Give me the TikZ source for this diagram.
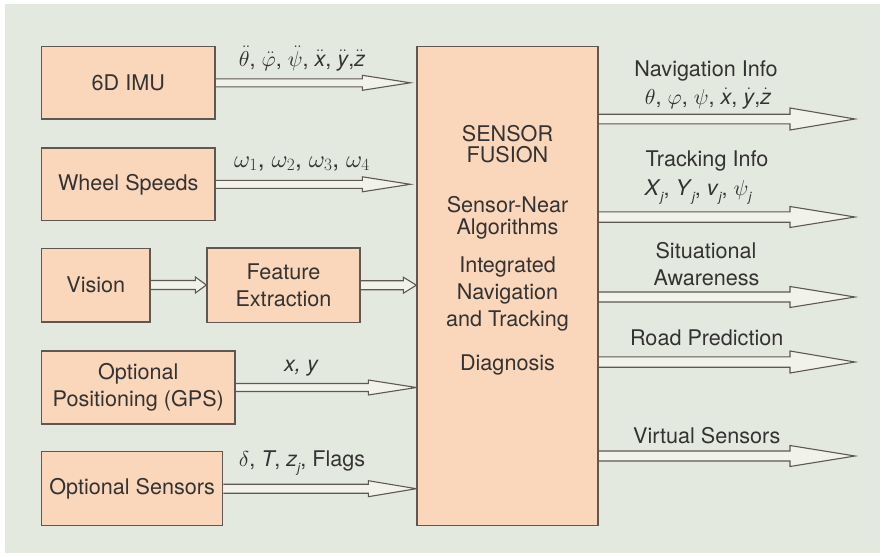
\documentclass[tikz,border=0pt]{standalone}
\DeclareFontFamily{OML}{cmm}{\skewchar\font127}
\DeclareFontShape{OML}{cmm}{m}{it}{<->cmmi10}{}
\DeclareFontShape{OML}{cmm}{b}{it}{<->cmmib10}{}
\DeclareFontFamily{OMS}{cmsy}{\skewchar\font48}
\DeclareFontShape{OMS}{cmsy}{m}{n}{<->cmsy10}{}
\DeclareFontFamily{OMX}{cmex}{}
\DeclareFontShape{OMX}{cmex}{m}{n}{<->cmex10}{}
\usepackage{amsmath}
\usepackage{fontspec}
\setmainfont{TeX Gyre Heros}
\usetikzlibrary{calc}
\definecolor{bgc}{RGB}{228,233,223}
\definecolor{boxc}{RGB}{250,215,186}
\definecolor{edgec}{RGB}{95,88,82}
\definecolor{arrc}{RGB}{241,242,233}
\definecolor{txtc}{RGB}{52,50,50}
\newcommand\sit[1]{\text{\itshape #1}}
\newcommand\sbj{\raisebox{-0.28em}{\fontsize{13}{13}\selectfont\itshape j}}
\pgfdeclarelayer{bgl}
\pgfdeclarelayer{arrl}
\pgfsetlayers{bgl,arrl,main}
\tikzset{
  blk/.style={draw=edgec, fill=boxc, line width=1.3pt, align=center, inner sep=0pt, text=txtc},
  lbl/.style={text=txtc, inner sep=0pt, anchor=base},
  harr/.style={draw=edgec, line width=1.1pt, line join=miter},
}
% #1 start, #2 tip, #3 shaft half width, #4 head half width, #5 head length
\newcommand\harrow[5]{%
  \fill[arrc] let \p1=(#1), \p2=(#2) in
    (\x1,\y1+#3) -- (\x2-#5,\y1+#3) -- (\x2-#5,\y1+#4) -- (\x2,\y1)
    -- (\x2-#5,\y1-#4) -- (\x2-#5,\y1-#3) -- (\x1,\y1-#3) -- cycle;
  \draw[harr] let \p1=(#1), \p2=(#2) in
    (\x1,\y1+#3) -- (\x2-#5,\y1+#3) -- (\x2-#5,\y1+#4) -- (\x2,\y1)
    -- (\x2-#5,\y1-#4) -- (\x2-#5,\y1-#3) -- (\x1,\y1-#3);
}
\begin{document}
\begin{tikzpicture}[x=1pt,y=-1pt,font=\fontsize{21.6}{26.5}\selectfont]
\useasboundingbox (0,0) rectangle (884,557);
\begin{pgfonlayer}{bgl}
  \fill[bgc] (5,4) rectangle (880,553);
\end{pgfonlayer}

% input boxes
\node[blk, minimum width=173.3pt, minimum height=72.3pt] (imu) at (128.3,82.8) {6D IMU};
\node[blk, minimum width=173.3pt, minimum height=72.7pt] (wheel) at (128.3,184.3) {Wheel Speeds};
\node[blk, minimum width=108.3pt, minimum height=73.7pt] (vis) at (95.8,285) {Vision};
\node[blk, minimum width=153pt, minimum height=74.5pt] (feat) at (283.5,285.2) {Feature\\Extraction};
\node[blk, minimum width=193.3pt, minimum height=73pt] (gps) at (138.3,387.5) {Optional\\Positioning (GPS)};
\node[blk, minimum width=181pt, minimum height=74pt] (sens) at (132.2,488.7) {Optional Sensors};

% fusion box
\node[blk, minimum width=181pt, minimum height=479pt] (fusion) at (507.5,286.2) {};
\node[lbl] (fa) at (507.5,141.7) {SENSOR};
\node[lbl] (fb) at (507.5,162.7) {FUSION};
\node[lbl] (fc) at (507.5,212.7) {Sensor-Near};
\node[lbl] (fd) at (507.5,234.2) {Algorithms};
\node[lbl] (fe) at (507.5,272.7) {Integrated};
\node[lbl] (ff) at (507.5,299.3) {Navigation};
\node[lbl] (fg) at (507.5,326) {and Tracking};
\node[lbl] (fh) at (507.5,370) {Diagnosis};

% arrow tips
\coordinate (i1) at ($(fusion.west |- imu.east)+(-6,0)$);
\coordinate (i2) at ($(fusion.west |- wheel.east)+(-6,0)$);
\coordinate (o1) at (855,119);
\coordinate (o2) at (855,217);
\coordinate (o3) at (855,297);
\coordinate (o4) at (855,362);
\coordinate (o5) at (855,456);

\begin{pgfonlayer}{arrl}
  \harrow{imu.east}{i1}{4}{7.5}{48}
  \harrow{wheel.east}{i2}{4}{7.5}{48}
  \harrow{vis.east}{feat.west |- vis.east}{4.5}{8}{11}
  \harrow{feat.east}{fusion.west |- feat.east}{4.5}{8}{13}
  \harrow{gps.east}{fusion.west |- gps.east}{4}{7.5}{48}
  \harrow{sens.east}{fusion.west |- sens.east}{4.5}{8}{48}
  \harrow{fusion.east |- o1}{o1}{4.8}{11}{65}
  \harrow{fusion.east |- o2}{o2}{5.2}{10.5}{65}
  \harrow{fusion.east |- o3}{o3}{5}{10.5}{65}
  \harrow{fusion.east |- o4}{o4}{5.2}{11}{65}
  \harrow{fusion.east |- o5}{o5}{5}{10.5}{65}
\end{pgfonlayer}

% input labels
\node[lbl] (l1) at (302,66) {$\ddot{\theta}$, $\ddot{\varphi}$, $\ddot{\psi}$, $\ddot{\sit{x}}$, $\ddot{\sit{y}}$,$\ddot{\sit{z}}$};
\node[lbl, font=\fontsize{24.5}{29}\selectfont] (l2) at (302,167) {$\omega_1$, $\omega_2$, $\omega_3$, $\omega_4$};
\node[lbl] (l3) at (301,371.5) {\itshape x, y};
\node[lbl] (l4) at (302,466) {$\delta$, \textit{T}, \textit{z}\sbj, Flags};

% output labels
\node[lbl] (r1) at (706,76.7) {Navigation Info};
\node[lbl] (r2) at (708,104) {$\theta$, $\varphi$, $\psi$, $\dot{\sit{x}}$, $\dot{\sit{y}}$,$\dot{\sit{z}}$};
\node[lbl] (r3) at (707,166.7) {Tracking Info};
\node[lbl] (r4) at (698,195) {\textit{X}\sbj, \textit{Y}\sbj, \textit{v}\sbj, $\psi$\sbj};
\node[lbl] (r5) at (706,258.3) {Situational};
\node[lbl] (r6) at (706.5,285) {Awareness};
\node[lbl] (r7) at (706.7,345) {Road Prediction};
\node[lbl] (r8) at (706.7,443.3) {Virtual Sensors};
\end{tikzpicture}
\end{document}
